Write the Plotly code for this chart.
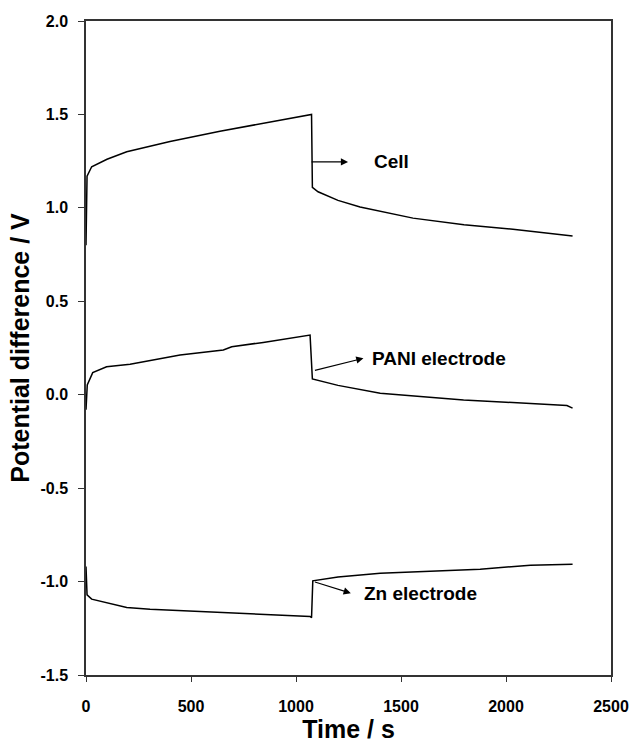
import plotly.graph_objects as go

# Data
cell_t = [0, 5, 27, 100, 194, 400, 638, 925, 1074, 1078, 1105, 1200, 1305, 1557, 1800, 2033, 2317]
cell_v = [0.80, 1.17, 1.22, 1.26, 1.30, 1.355, 1.41, 1.47, 1.50, 1.11, 1.086, 1.04, 1.005, 0.945, 0.91, 0.886, 0.85]

pani_t = [0, 6, 32, 98, 210, 448, 654, 694, 844, 1067, 1078, 1200, 1401, 1600, 1798, 2000, 2116, 2290, 2317]
pani_v = [-0.08, 0.052, 0.118, 0.150, 0.163, 0.213, 0.239, 0.257, 0.280, 0.319, 0.084, 0.05, 0.008, -0.012,
          -0.028, -0.04, -0.046, -0.058, -0.072]

zn_t = [0, 5, 27, 194, 305, 686, 1067, 1074, 1080, 1200, 1401, 1877, 2116, 2317]
zn_v = [-0.92, -1.071, -1.094, -1.139, -1.148, -1.169, -1.187, -1.193, -0.996, -0.975, -0.955, -0.934, -0.912, -0.907]

x_ticks = [0, 500, 1000, 1500, 2000, 2500]
x_ticktext = ["0", "500", "1000", "1500", "2000", "2500"]
y_ticks = [2.0, 1.5, 1.0, 0.5, 0.0, -0.5, -1.0, -1.5]
y_ticktext = ["2.0", "1.5", "1.0", "0.5", "0.0", "-0.5", "-1.0", "-1.5"]

labels = ["Cell", "PANI electrode", "Zn electrode"]
label_x = [1363, 1350, 1314]
label_y = [1.246, 0.195, -1.062]
arrow_tail_x = [1067, 1083, 1083]
arrow_tail_y = [1.246, 0.128, -1.0]
arrow_head_x = [1248, 1321, 1261]
arrow_head_y = [1.246, 0.195, -1.062]

FONT = "Liberation Sans, Arial, sans-serif"

fig = go.Figure()
for t, v in [(cell_t, cell_v), (pani_t, pani_v), (zn_t, zn_v)]:
    fig.add_trace(go.Scatter(x=t, y=v, mode="lines", line=dict(color="black", width=1.5),
                             showlegend=False, hoverinfo="skip"))

annotations = []
for i in range(3):
    annotations.append(dict(x=arrow_head_x[i], y=arrow_head_y[i], ax=arrow_tail_x[i], ay=arrow_tail_y[i],
                            xref="x", yref="y", axref="x", ayref="y", showarrow=True, arrowhead=2,
                            arrowsize=1.2, arrowwidth=1.2, arrowcolor="black", text=""))
    annotations.append(dict(x=label_x[i], y=label_y[i], xref="x", yref="y", showarrow=False,
                            text=labels[i], xanchor="left", yanchor="middle",
                            font=dict(family=FONT, size=19, color="black", weight="bold")))

fig.update_layout(
    width=632, height=746,
    margin=dict(l=86, r=21, t=21, b=71),
    plot_bgcolor="white", paper_bgcolor="white",
    annotations=annotations,
    font=dict(family=FONT, color="black"),
)
fig.update_xaxes(range=[0, 2500], tickvals=x_ticks, ticktext=x_ticktext, ticks="outside", ticklen=5,
                 tickcolor="#333", showline=True, linecolor="#333", linewidth=1.5, mirror=True,
                 showgrid=False, zeroline=False, ticklabelstandoff=11, automargin=False,
                 tickfont=dict(family=FONT, size=16, color="black", weight="bold"),
                 title=dict(text="Time / s", standoff=0,
                            font=dict(family=FONT, size=25, color="black", weight="bold")))
fig.update_yaxes(range=[-1.5, 2.0], tickvals=y_ticks, ticktext=y_ticktext, ticks="outside", ticklen=6,
                 tickcolor="#333", showline=True, linecolor="#333", linewidth=1.5, mirror=True,
                 showgrid=False, zeroline=False, ticklabelstandoff=7, automargin=False,
                 tickfont=dict(family=FONT, size=16, color="black", weight="bold"),
                 title=dict(text="Potential difference / V", standoff=4,
                            font=dict(family=FONT, size=25, color="black", weight="bold")))

fig.write_html("out.html", config={"displayModeBar": False},
               post_script="document.body.style.margin='0';document.body.style.overflow='hidden';")
